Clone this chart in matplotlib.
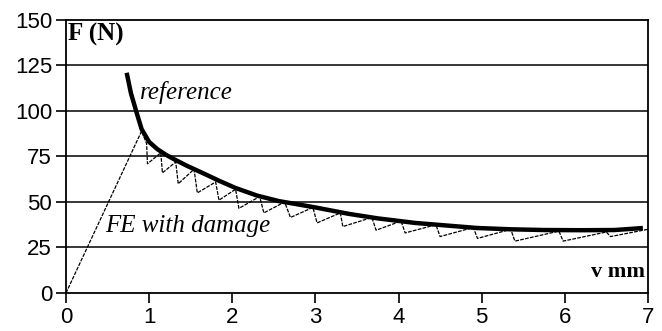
import matplotlib
matplotlib.use("Agg")
import matplotlib.pyplot as plt

# reference curve (thick)
ref_x = [0.73, 0.78, 0.85, 0.91, 1.0, 1.1, 1.2, 1.3, 1.45, 1.64, 1.85, 2.04, 2.3, 2.56, 2.75,
         3.0, 3.4, 3.75, 4.2, 4.6, 4.95, 5.35, 5.75, 6.2, 6.6, 6.94]
ref_y = [121, 110, 99, 90, 83, 79, 76, 73.5, 70, 66, 61.5, 57.7, 53.5, 50.5, 49,
         47, 43.5, 41, 38.5, 37, 35.7, 35, 34.6, 34.5, 34.6, 35.7]

# FE with damage (thin sawtooth)
fe_x = [0, 0.91, 0.97, 0.98, 1.14, 1.16, 1.32, 1.35, 1.54, 1.58, 1.8, 1.84, 2.04, 2.08,
        2.33, 2.38, 2.63, 2.7, 2.97, 3.02, 3.3, 3.33, 3.68, 3.73, 4.03, 4.08, 4.45, 4.5,
        4.9, 4.95, 5.35, 5.4, 5.93, 5.98, 6.5, 6.55, 7.0]
fe_y = [0, 89, 82, 71, 77, 66, 72, 60, 68, 55, 61, 51, 57, 46.5,
        53, 44, 50, 41.5, 47, 38.5, 44, 36.5, 41.5, 34.5, 39.5, 33, 37.5, 31,
        36, 30, 35, 28.5, 34, 28.5, 33.5, 31, 35]

x_ticks = [0, 1, 2, 3, 4, 5, 6, 7]
y_ticks = [0, 25, 50, 75, 100, 125, 150]

fig = plt.figure(figsize=(6.62, 3.31), dpi=100)
ax = fig.add_axes([0.0997, 0.1148, 0.879, 0.8248])

for yv in y_ticks[1:-1]:
    ax.axhline(yv, color="black", lw=1.1, zorder=1)

ax.plot(fe_x, fe_y, color="black", lw=0.9, ls=(0, (3, 1)), zorder=2)
ax.plot(ref_x, ref_y, color="black", lw=3.2, solid_capstyle="butt", zorder=3)

ax.set_xlim(0, 7)
ax.set_ylim(0, 150)
ax.set_xticks(x_ticks)
ax.set_yticks(y_ticks)
for s in ax.spines.values():
    s.set_linewidth(1.3)
ax.tick_params(direction="out", length=7, width=1.2, labelsize=16, pad=3)
for lab in ax.get_xticklabels() + ax.get_yticklabels():
    lab.set_family("Liberation Sans")

ax.text(0.03, 142, "F (N)", family="Liberation Serif", weight="bold", fontsize=18,
        va="center", ha="left")
ax.text(0.89, 110, "reference", family="Liberation Serif", style="italic", fontsize=18,
        va="center", ha="left")
ax.text(0.47, 37, "FE with damage", family="Liberation Serif", style="italic", fontsize=18,
        va="center", ha="left")
ax.text(6.97, 11.5, "v mm", family="Liberation Serif", weight="bold", fontsize=16,
        va="center", ha="right")

fig.savefig("out.png", dpi=100)
